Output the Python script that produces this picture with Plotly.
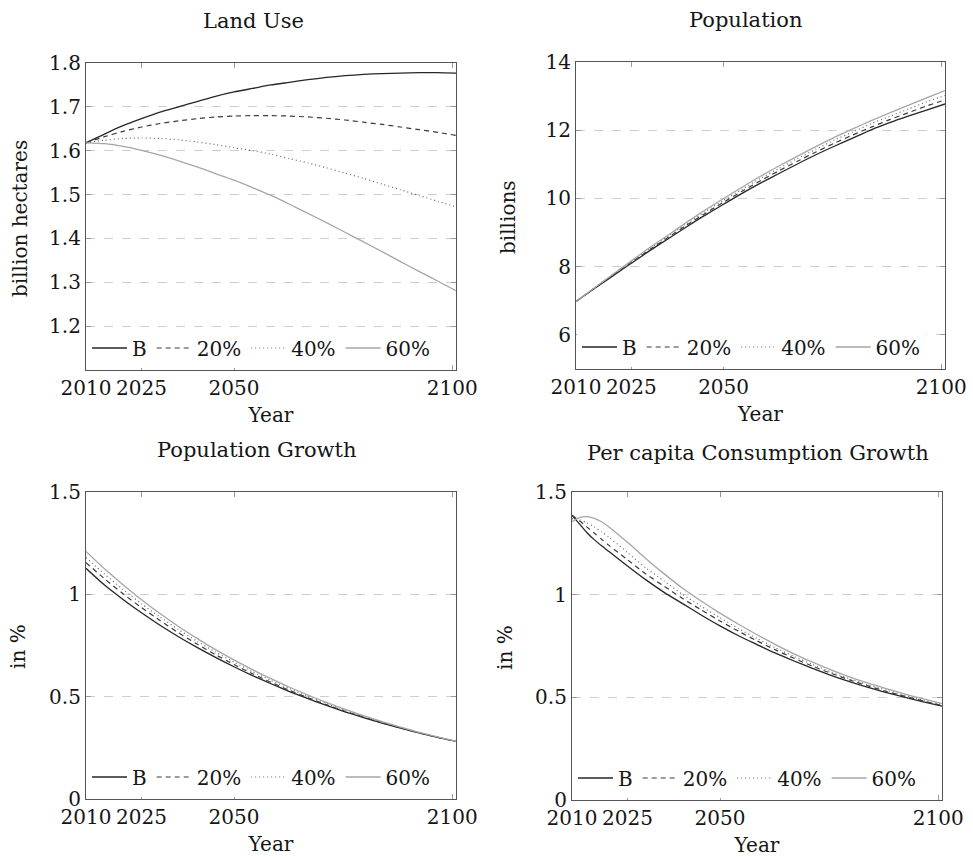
import plotly.graph_objects as go

# ---------------- data ----------------
# x positions: years since 2010 (axis ticks labelled 2010, 2025, 2050, 2100)
t_coarse = [0, 5, 10, 15, 20, 25, 30, 35, 40, 45, 50, 55, 60, 65, 70, 75, 80, 85, 90, 95, 100]
t_fine = [0, 2, 4, 6, 8, 10, 15, 20, 25, 30, 35, 40, 45, 50, 55, 60, 65, 70, 75, 80, 85, 90, 95, 100]
tick_pos = [0, 15, 40, 99]
tick_lab = ["2010", "2025", "2050", "2100"]
series_names = ["B", "20%", "40%", "60%"]

# Land Use (billion hectares)
land_B = [1.618, 1.638, 1.657, 1.673, 1.688, 1.700, 1.712, 1.724, 1.734, 1.742, 1.750,
          1.756, 1.762, 1.767, 1.771, 1.774, 1.776, 1.777, 1.778, 1.778, 1.777]
land_20 = [1.618, 1.632, 1.644, 1.654, 1.662, 1.668, 1.673, 1.677, 1.679, 1.680, 1.680,
           1.679, 1.677, 1.674, 1.670, 1.665, 1.660, 1.654, 1.648, 1.642, 1.635]
land_40 = [1.618, 1.624, 1.628, 1.629, 1.628, 1.625, 1.620, 1.614, 1.607, 1.600, 1.592,
           1.582, 1.572, 1.561, 1.549, 1.537, 1.524, 1.511, 1.498, 1.485, 1.472]
land_60 = [1.618, 1.616, 1.610, 1.601, 1.590, 1.577, 1.563, 1.548, 1.533, 1.516, 1.498,
           1.478, 1.457, 1.436, 1.414, 1.392, 1.370, 1.347, 1.325, 1.303, 1.281]

# Population (billions)
pop_B = [6.98, 7.36, 7.73, 8.10, 8.47, 8.82, 9.17, 9.51, 9.83, 10.15, 10.45,
         10.73, 11.01, 11.28, 11.53, 11.77, 12.01, 12.22, 12.41, 12.59, 12.77]
pop_20 = [6.98, 7.37, 7.75, 8.12, 8.50, 8.86, 9.22, 9.56, 9.89, 10.21, 10.52,
          10.81, 11.09, 11.36, 11.62, 11.86, 12.09, 12.31, 12.51, 12.71, 12.89]
pop_40 = [6.98, 7.38, 7.77, 8.15, 8.53, 8.90, 9.26, 9.61, 9.95, 10.27, 10.59,
          10.88, 11.17, 11.44, 11.71, 11.95, 12.19, 12.41, 12.62, 12.83, 13.02]
pop_60 = [6.98, 7.38, 7.78, 8.17, 8.56, 8.93, 9.30, 9.66, 10.00, 10.33, 10.65,
          10.95, 11.24, 11.52, 11.79, 12.04, 12.28, 12.51, 12.73, 12.95, 13.16]

# Population growth (in %)
pg_B = [1.127, 1.045, 0.975, 0.910, 0.849, 0.793, 0.741, 0.692, 0.646, 0.603, 0.563,
        0.525, 0.490, 0.457, 0.426, 0.398, 0.371, 0.346, 0.323, 0.301, 0.281]
pg_20 = [1.155, 1.076, 1.003, 0.935, 0.872, 0.812, 0.757, 0.705, 0.657, 0.612, 0.570,
         0.531, 0.495, 0.461, 0.429, 0.400, 0.373, 0.347, 0.323, 0.301, 0.281]
pg_40 = [1.180, 1.099, 1.024, 0.954, 0.889, 0.828, 0.771, 0.718, 0.669, 0.622, 0.579,
         0.539, 0.502, 0.467, 0.434, 0.404, 0.376, 0.349, 0.325, 0.302, 0.281]
pg_60 = [1.210, 1.125, 1.047, 0.974, 0.906, 0.843, 0.785, 0.730, 0.680, 0.632, 0.588,
         0.546, 0.508, 0.472, 0.438, 0.407, 0.378, 0.351, 0.326, 0.303, 0.282]

# Per capita consumption growth (in %)
cg_B = [1.387, 1.345, 1.303, 1.268, 1.238, 1.210, 1.140, 1.072, 1.010, 0.955, 0.900,
        0.848, 0.800, 0.757, 0.715, 0.677, 0.641, 0.607, 0.576, 0.548, 0.523, 0.500, 0.478, 0.457]
cg_20 = [1.387, 1.360, 1.330, 1.300, 1.270, 1.240, 1.170, 1.100, 1.040, 0.980, 0.925,
         0.872, 0.822, 0.775, 0.731, 0.690, 0.652, 0.617, 0.585, 0.556, 0.529, 0.505, 0.482, 0.460]
cg_40 = [1.370, 1.365, 1.350, 1.330, 1.305, 1.280, 1.205, 1.130, 1.065, 1.000, 0.943,
         0.888, 0.835, 0.787, 0.741, 0.699, 0.660, 0.624, 0.591, 0.561, 0.535, 0.510, 0.486, 0.464]
cg_60 = [1.355, 1.375, 1.380, 1.372, 1.355, 1.330, 1.255, 1.175, 1.100, 1.030, 0.968,
         0.910, 0.856, 0.805, 0.757, 0.712, 0.671, 0.634, 0.600, 0.569, 0.542, 0.516, 0.492, 0.469]

# ---------------- styling ----------------
FONT = "DejaVu Serif"
W, H = 973, 857
TXT = "#151515"
FS = 20
line_styles = [
    dict(color="#262626", width=1.3, dash="solid"),
    dict(color="#3c3c3c", width=1.2, dash="5px,4px"),
    dict(color="#686868", width=1.2, dash="1px,3px"),
    dict(color="#a6a6a6", width=1.3, dash="solid"),
]

panels = [
    dict(title="Land Use", ylabel="billion hectares", x=t_coarse,
         ys=[land_B, land_20, land_40, land_60], yr=[1.1, 1.8],
         yt=[1.2, 1.3, 1.4, 1.5, 1.6, 1.7, 1.8], ytt=["1.2", "1.3", "1.4", "1.5", "1.6", "1.7", "1.8"],
         px=(86, 456), py=(63, 370), tpos=(253, 21), ylpos=(20, 219)),
    dict(title="Population", ylabel="billions", x=t_coarse,
         ys=[pop_B, pop_20, pop_40, pop_60], yr=[5, 14],
         yt=[6, 8, 10, 12, 14], ytt=["6", "8", "10", "12", "14"],
         px=(576, 945), py=(62, 369), tpos=(745, 20), ylpos=(508, 217)),
    dict(title="Population Growth", ylabel="in %", x=t_coarse,
         ys=[pg_B, pg_20, pg_40, pg_60], yr=[0, 1.5],
         yt=[0, 0.5, 1, 1.5], ytt=["0", "0.5", "1", "1.5"],
         px=(86, 456), py=(492, 799), tpos=(257, 450), ylpos=(18, 647)),
    dict(title="Per capita Consumption Growth", ylabel="in %", x=t_fine,
         ys=[cg_B, cg_20, cg_40, cg_60], yr=[0, 1.5],
         yt=[0, 0.5, 1, 1.5], ytt=["0", "0.5", "1", "1.5"],
         px=(572, 942), py=(492, 800), tpos=(758, 453), ylpos=(505, 647)),
]

fig = go.Figure()
layout = dict(
    width=W, height=H, margin=dict(l=0, r=0, t=0, b=0),
    paper_bgcolor="white", plot_bgcolor="white",
    font=dict(family=FONT, size=FS, color=TXT),
    annotations=[], showlegend=True,
)

for i, p in enumerate(panels):
    k = "" if i == 0 else str(i + 1)
    xa, ya = "x" + k, "y" + k
    lg = "legend" + k
    for j, (name, ys) in enumerate(zip(series_names, p["ys"])):
        fig.add_trace(go.Scatter(
            x=p["x"], y=ys, name=name, mode="lines",
            line=dict(shape="spline", smoothing=0.6, **line_styles[j]),
            xaxis=xa, yaxis=ya, legend=lg, hoverinfo="skip"))
    x0, x1 = p["px"]
    y0, y1 = p["py"]
    layout["xaxis" + k] = dict(
        domain=[x0 / W, x1 / W], anchor=ya, range=[0, 100],
        tickmode="array", tickvals=tick_pos, ticktext=tick_lab,
        ticks="inside", ticklen=5, tickcolor="#9a9a9a", tickwidth=1,
        showline=True, linecolor="#555", linewidth=1.2, mirror="allticks",
        showgrid=False, zeroline=False, automargin=False,
        tickfont=dict(family=FONT, size=FS, color=TXT),
        title=dict(text="Year", font=dict(family=FONT, size=FS, color=TXT), standoff=8),
    )
    layout["yaxis" + k] = dict(
        domain=[1 - y1 / H, 1 - y0 / H], anchor=xa, range=p["yr"],
        tickmode="array", tickvals=p["yt"], ticktext=p["ytt"],
        ticks="inside", ticklen=5, tickcolor="#9a9a9a", tickwidth=1,
        showline=True, linecolor="#555", linewidth=1.2, mirror="allticks",
        showgrid=True, gridcolor="#cfcfcf", griddash="dash", gridwidth=1,
        zeroline=False, automargin=False,
        tickfont=dict(family=FONT, size=FS, color=TXT),
    )
    layout[lg] = dict(
        orientation="h", x=(x0 + 1) / W, xanchor="left", y=1 - (y1 - 22) / H, yanchor="middle",
        bgcolor="white", borderwidth=0, font=dict(family=FONT, size=FS, color=TXT),
        itemwidth=35, tracegroupgap=0,
    )
    layout["annotations"].append(dict(
        text=p["title"], x=p["tpos"][0] / W, y=1 - p["tpos"][1] / H, xref="paper", yref="paper",
        xanchor="center", yanchor="middle", showarrow=False,
        font=dict(family=FONT, size=21, color=TXT)))
    layout["annotations"].append(dict(
        text=p["ylabel"], x=p["ylpos"][0] / W, y=1 - p["ylpos"][1] / H, xref="paper", yref="paper",
        xanchor="center", yanchor="middle", showarrow=False, textangle=-90,
        font=dict(family=FONT, size=FS, color=TXT)))

fig.update_layout(**layout)
fig.write_html(
    "out.html",
    config={"displayModeBar": False},
    post_script="document.body.style.margin='0';document.body.style.overflow='hidden';",
)
